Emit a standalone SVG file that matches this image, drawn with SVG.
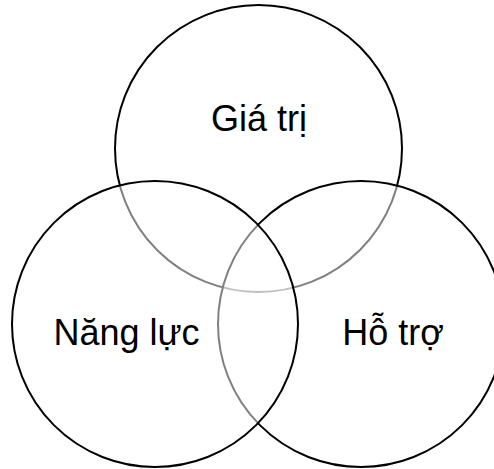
<svg xmlns="http://www.w3.org/2000/svg" width="494" height="469" viewBox="0 0 494 469">
<style>
.c{fill:#ffffff;fill-opacity:0.5;stroke:#000000;stroke-width:2}
.t{font-family:"Liberation Sans",Arial,sans-serif;font-size:36px;fill:#000000;text-anchor:middle}
</style>
<rect width="494" height="469" fill="#ffffff"/>
<g id="gia-tri">
<circle class="c" cx="258.5" cy="148.5" r="143.5"/>
<text class="t" x="259" y="131">Giá trị</text>
</g>
<g id="ho-tro">
<circle class="c" cx="361" cy="324" r="143"/>
<text class="t" x="393" y="345">Hỗ trợ</text>
</g>
<g id="nang-luc">
<circle class="c" cx="155" cy="324" r="143"/>
<text class="t" x="126.5" y="345">Năng lực</text>
</g>
<g id="connectors"/>
</svg>
